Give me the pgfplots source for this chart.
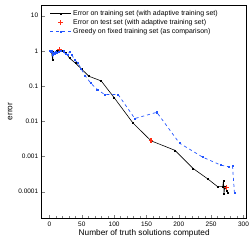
\documentclass[border=0pt]{standalone}
\usepackage{pgfplots}
\pgfplotsset{compat=1.18}
\usepackage{fontspec}
\setmainfont{Liberation Sans}
\usetikzlibrary{calc}
\definecolor{gblue}{RGB}{35,85,255}
\definecolor{tred}{RGB}{255,45,20}
\begin{document}
\begin{tikzpicture}
\begin{axis}[
  scale only axis,
  width=205bp, height=213bp,
  xmin=-12, xmax=305,
  ymode=log, ymin=1.8e-5, ymax=20,
  xtick={0,50,100,150,200,250,300},
  minor x tick num=4,
  ytick={10,1,0.1,0.01,0.001,0.0001},
  yticklabels={10,1,0.1,0.01,0.001,0.0001},
  tick align=inside,
  xtick pos=bottom, ytick pos=left,
  major tick length=3bp, minor tick length=1.6bp,
  /pgf/number format/assume math mode=true,
  tick label style={font=\fontsize{6.5}{7}\selectfont},
  label style={font=\fontsize{8.3}{9}\selectfont},
  xlabel={Number of truth solutions computed},
  ylabel={error},
  xlabel style={yshift=3bp},
  ylabel style={yshift=-1bp},
  axis line style={line width=0.8pt},
  legend style={draw=none, fill=none, at={(0.035,0.99)}, anchor=north west,
    font=\fontsize{7}{8}\selectfont, row sep=-1.5pt, inner sep=1pt},
  legend cell align=left,
  legend image code/.code={\draw[mark repeat=2,mark phase=2,#1] plot coordinates {(0cm,0cm)(0.36cm,0cm)(0.72cm,0cm)};},
]
\addplot[black, line width=0.6pt, mark=square*, mark size=0.5pt] coordinates {
(0,1)(3,0.95)(5,0.55)(5.5,0.95)(8,0.9)(12,1.0)(16,1.05)(20,1.0)(25,0.9)(31,0.62)(40,0.45)(50,0.3)(61,0.19)(80,0.14)(100,0.047)(129,0.009)(157,0.0028)(194,0.0015)(222,0.00046)(245,0.00023)(260,0.00014)(268,0.00014)(269,0.0002)(270,0.00009)(271,0.00014)(274,0.00011)(276,0.000092)
};
\addlegendentry{Error on training set (with adaptive training set)}
\addplot[only marks, tred, mark=+, mark size=2.3pt, line width=1.1pt] coordinates {
(15.5,1.1)(157,0.0028)(274,0.00013)
};
\addlegendentry{Error on test set (with adaptive training set)}
\addplot[gblue, dashed, line width=0.7pt, mark=square*, mark size=0.55pt, mark options={solid}] coordinates {
(0,1)(2,0.95)(4,0.98)(5,0.75)(6,0.9)(8,0.85)(10,0.95)(12,0.9)(15,0.95)(18,1.0)(22,0.97)(25,0.8)(28,0.75)(31,0.95)(35,0.75)(39,0.55)(44,0.45)(49,0.31)(55,0.2)(64,0.12)(74,0.08)(85,0.058)(106,0.058)(132,0.012)(166,0.018)(201,0.0024)(237,0.00096)(265,0.00057)(278,0.00051)(283,0.00055)(286,0.0000955)
};
\addlegendentry{Greedy on fixed training set (as comparison)}
\end{axis}
\pgfresetboundingbox
\path ($(current axis.south west)+(-41.7bp,-31bp)$) rectangle ($(current axis.north east)+(2bp,5bp)$);
\end{tikzpicture}
\end{document}
